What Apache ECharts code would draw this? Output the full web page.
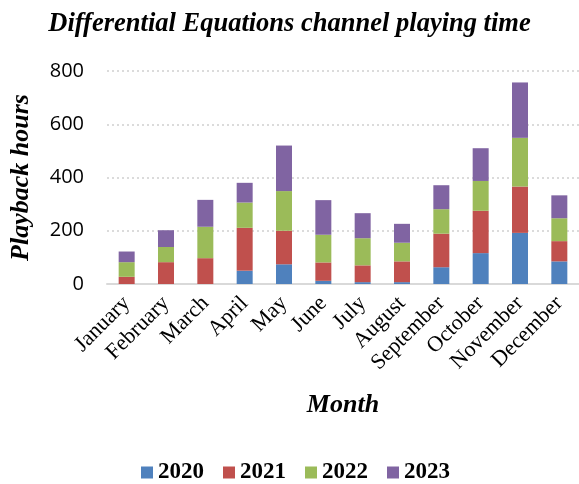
<!doctype html>
<html>
<head>
<meta charset="UTF-8">
<title>Playing time</title>
<script src="https://cdn.jsdelivr.net/npm/echarts@6/dist/echarts.min.js"></script>
<style>
  html, body { margin: 0; padding: 0; background: #fff; }
</style>
</head>
<body>
<div id="chart" style="width: 579px; height: 484px;"></div>
<script>
var months = ['January', 'February', 'March', 'April', 'May', 'June', 'July',
              'August', 'September', 'October', 'November', 'December'];
var years = ['2020', '2021', '2022', '2023'];
var yTicks = [0, 200, 400, 600, 800];

// hours per month
var hours2020 = [0, 0, 0, 50, 74, 12, 7, 7, 63, 116, 192, 85];
var hours2021 = [27, 82, 97, 161, 126, 69, 63, 78, 126, 159, 174, 76];
var hours2022 = [55, 57, 118, 95, 149, 104, 102, 70, 92, 112, 183, 86];
var hours2023 = [40, 63, 101, 74, 171, 130, 94, 71, 90, 123, 208, 86];

var colors = ['#4F81BD', '#C0504D', '#9BBB59', '#8064A2'];
var serif = '"Liberation Serif", "Times New Roman", serif';

var myChart = echarts.init(document.getElementById('chart'));

var allData = [hours2020, hours2021, hours2022, hours2023];
var series = years.map(function (y, i) {
    return {
        name: y,
        type: 'bar',
        stack: 'total',
        barWidth: 16,
        itemStyle: { color: colors[i] },
        data: allData[i]
    };
});

var option = {
    animation: false,
    title: {
        text: 'Differential Equations channel playing time',
        left: 'center',
        top: 6,
        textStyle: {
            fontFamily: serif,
            fontSize: 26.5,
            fontWeight: 'bold',
            fontStyle: 'italic',
            color: '#000'
        }
    },
    legend: {
        data: years,
        left: 136,
        top: 456,
        itemWidth: 12,
        itemHeight: 12,
        itemGap: 19,
        icon: 'rect',
        textStyle: {
            fontFamily: serif,
            fontSize: 23,
            fontWeight: 'bold',
            color: '#000'
        }
    },
    grid: {
        left: 103,
        right: -4,
        top: 71,
        bottom: 200,
        containLabel: false
    },
    xAxis: {
        type: 'category',
        data: months,
        name: 'Month',
        nameLocation: 'middle',
        nameGap: 108,
        nameTextStyle: {
            fontFamily: serif,
            fontSize: 26,
            fontWeight: 'bold',
            fontStyle: 'italic',
            color: '#000'
        },
        axisLine: { lineStyle: { color: '#D9D9D9', width: 2 } },
        axisTick: { show: false },
        axisLabel: {
            rotate: 45,
            interval: 0,
            margin: 16,
            fontFamily: serif,
            fontSize: 22,
            color: '#000'
        }
    },
    yAxis: {
        type: 'value',
        min: yTicks[0],
        max: yTicks[yTicks.length - 1],
        interval: 200,
        name: 'Playback hours',
        nameLocation: 'middle',
        nameGap: 73,
        nameTextStyle: {
            fontFamily: serif,
            fontSize: 26,
            fontWeight: 'bold',
            fontStyle: 'italic',
            color: '#000'
        },
        axisLine: { show: false },
        axisTick: { show: false },
        axisLabel: {
            margin: 23,
            fontFamily: '"Open Sans", sans-serif',
            fontSize: 20,
            color: '#000'
        },
        splitLine: {
            lineStyle: { color: '#D0D0D0', type: [2, 3], width: 1.5 }
        }
    },
    series: series
};

myChart.setOption(option);
</script>
</body>
</html>
